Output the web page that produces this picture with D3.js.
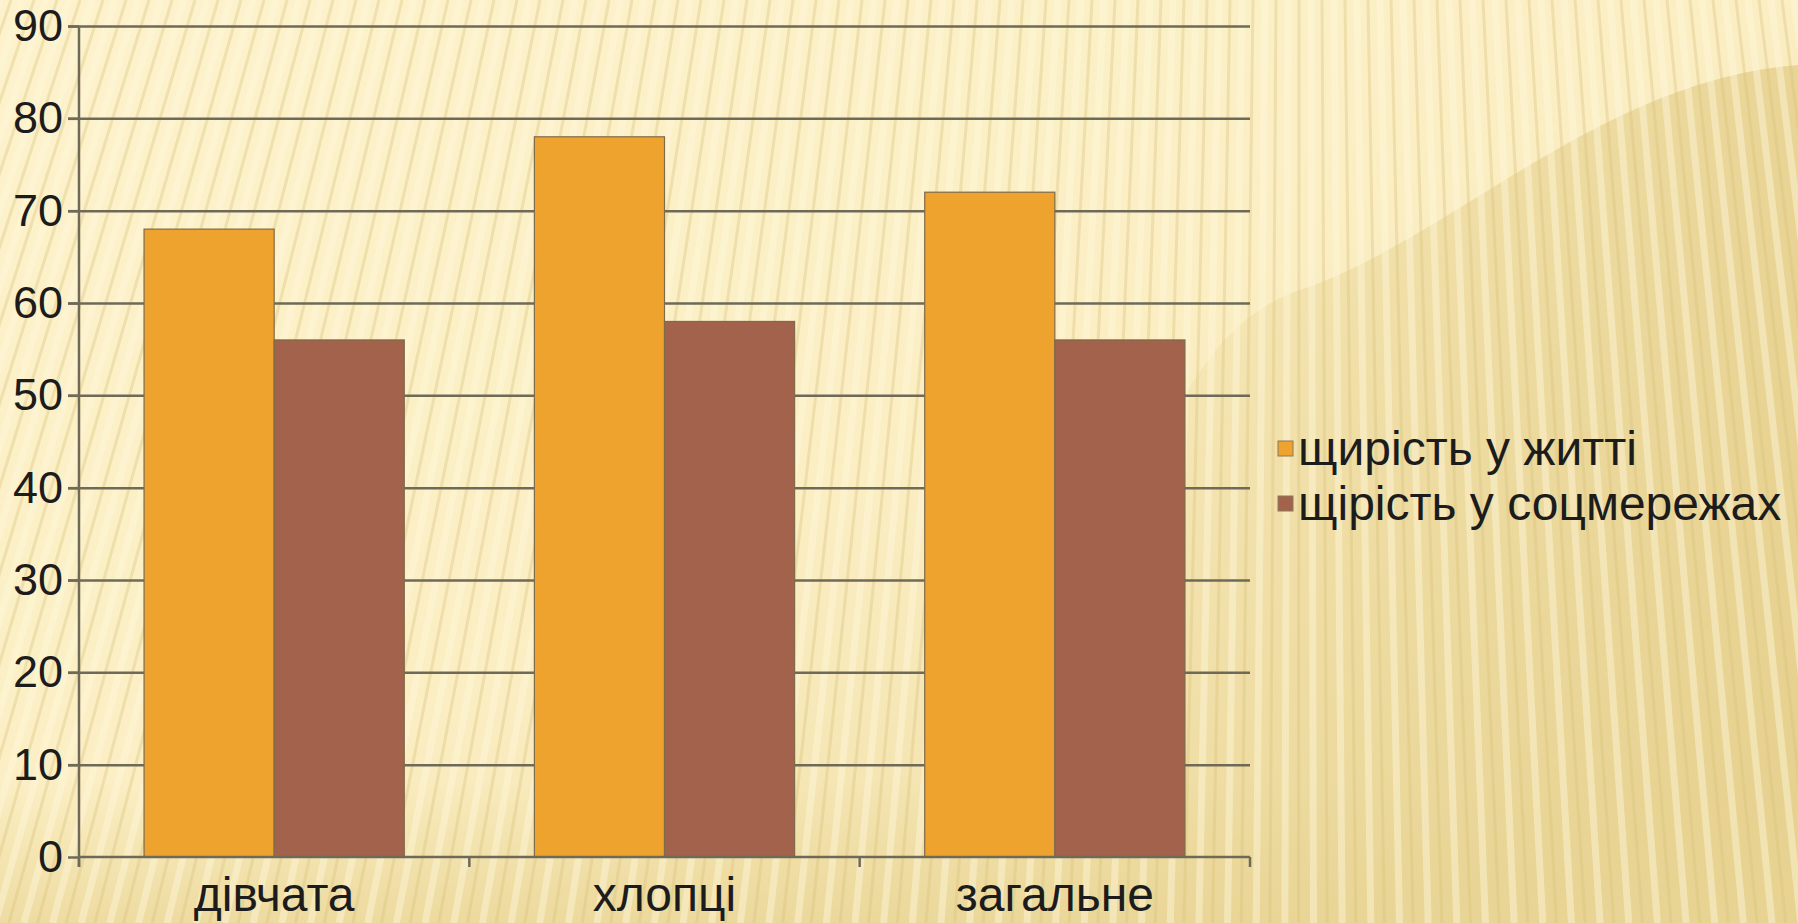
<!DOCTYPE html>
<html>
<head>
<meta charset="utf-8">
<script src="https://cdn.jsdelivr.net/npm/d3@7"></script>
<style>
  body { margin: 0; overflow: hidden; }
  text { font-family: "Liberation Sans", Arial, sans-serif; fill: #1c1c1c; }
</style>
</head>
<body>
<div id="chart"></div>
<script>
let w = 1798;
let h = 923;

// data
let categories = ['дівчата', 'хлопці', 'загальне'];
let series = ['щирість у житті', 'щірість у соцмережах'];
let lifeValues = [68, 78, 72];
let socialValues = [56, 58, 56];
let yTicks = [0, 10, 20, 30, 40, 50, 60, 70, 80, 90];
let colors = ['#eea32e', '#a3624b'];

let pLeft = 79, pRight = 1250, pTop = 26, pBottom = 857;

let svg = d3.select('#chart').
append('svg').
attr('width', w).
attr('height', h);

let defs = svg.append('defs');

let bg = defs.append('linearGradient').
attr('id', 'bg').
attr('x1', 0).attr('y1', 0).attr('x2', 1).attr('y2', 1);
bg.append('stop').attr('offset', '0%').attr('stop-color', '#fdf2cc');
bg.append('stop').attr('offset', '50%').attr('stop-color', '#fbeec3');
bg.append('stop').attr('offset', '100%').attr('stop-color', '#e8d392');

let shade = defs.append('linearGradient').
attr('id', 'shade').
attr('x1', 0).attr('y1', 0).attr('x2', 1).attr('y2', 0);
shade.append('stop').attr('offset', '0%').attr('stop-color', '#e8d494').attr('stop-opacity', 0);
shade.append('stop').attr('offset', '40%').attr('stop-color', '#e8d494').attr('stop-opacity', 0.5);
shade.append('stop').attr('offset', '100%').attr('stop-color', '#e6d08e').attr('stop-opacity', 0.85);

let bottomShade = defs.append('linearGradient').
attr('id', 'bshade').
attr('x1', 0).attr('y1', 0).attr('x2', 0).attr('y2', 1);
bottomShade.append('stop').attr('offset', '0%').attr('stop-color', '#e8d494').attr('stop-opacity', 0);
bottomShade.append('stop').attr('offset', '100%').attr('stop-color', '#e8d494').attr('stop-opacity', 0.7);

svg.append('rect').
attr('width', w).
attr('height', h).
attr('fill', 'url(#bg)');

// darker region in the right part of the slide
svg.append('path').
attr('d', 'M1050,923 C1100,600 1150,340 1300,290 C1450,240 1600,80 1798,65 L1798,923 Z').
attr('fill', 'url(#shade)');

svg.append('rect').
attr('y', 780).
attr('width', w).
attr('height', h - 780).
attr('fill', 'url(#bshade)');

// fanned stripes of the background
let stripes = d3.range(-40, 110);
let gStr = svg.append('g');
gStr.selectAll('line.light').
data(stripes).
enter().
append('line').
attr('class', 'light').
attr('x1', d => d * 23).
attr('y1', 0).
attr('x2', d => d * 23 * 1.246 - 320).
attr('y2', h).
attr('stroke', '#fff8dc').
attr('stroke-width', 7).
attr('opacity', 0.45);
gStr.selectAll('line.dark').
data(stripes).
enter().
append('line').
attr('class', 'dark').
attr('x1', d => d * 23 + 11).
attr('y1', 0).
attr('x2', d => (d * 23 + 11) * 1.246 - 320).
attr('y2', h).
attr('stroke', '#d9c27a').
attr('stroke-width', 3).
attr('opacity', 0.35);

// scales
let x0 = d3.scaleBand().
domain(categories).
range([pLeft, pRight]);

let x1 = d3.scaleBand().
domain(series).
range([0, x0.bandwidth()]).
paddingOuter(0.5);

let y = d3.scaleLinear().
domain([0, 90]).
range([pBottom, pTop]);

// gridlines
svg.append('g').
attr('transform', 'translate(68,0)').
call(d3.axisRight(y).tickValues(yTicks.slice(1)).tickSize(pRight - 68).tickFormat('')).
call(g => g.select('.domain').remove()).
selectAll('line').
attr('stroke', '#6f6a58').
attr('stroke-width', 2.5);

// y axis
let yAxis = svg.append('g').
attr('transform', 'translate(' + pLeft + ',0)').
call(d3.axisLeft(y).tickValues(yTicks).tickSize(11).tickPadding(5));
yAxis.select('.domain').remove();
yAxis.selectAll('line').attr('stroke', '#6f6a58').attr('stroke-width', 2.5);
yAxis.selectAll('text').
style('font-size', '45px').
attr('fill', '#1c1c1c');
yAxis.append('line').
attr('y1', pTop).
attr('y2', pBottom + 10).
attr('stroke', '#6f6a58').
attr('stroke-width', 2.5);

// bars
let rows = categories.map((c, i) => ({ cat: c, vals: [lifeValues[i], socialValues[i]] }));

svg.append('g').selectAll('g').
data(rows).
enter().
append('g').
attr('transform', d => 'translate(' + x0(d.cat) + ',0)').
selectAll('rect').
data(d => d.vals.map((v, j) => ({ s: series[j], v: v, j: j }))).
enter().
append('rect').
attr('x', d => x1(d.s)).
attr('y', d => y(d.v)).
attr('width', x1.bandwidth()).
attr('height', d => y(0) - y(d.v)).
attr('fill', d => colors[d.j]).
attr('stroke', '#7f6a4a').
attr('stroke-width', 1.2);

// x axis
let xg = svg.append('g');
xg.append('line').
attr('x1', pLeft).
attr('x2', pRight).
attr('y1', pBottom).
attr('y2', pBottom).
attr('stroke', '#6f6a58').
attr('stroke-width', 2.5);

let bounds = categories.map(c => x0(c)).concat([pRight]);
xg.selectAll('line.tick').
data(bounds).
enter().
append('line').
attr('class', 'tick').
attr('x1', d => d).
attr('x2', d => d).
attr('y1', pBottom).
attr('y2', pBottom + 10).
attr('stroke', '#6f6a58').
attr('stroke-width', 2.5);

xg.selectAll('text').
data(categories).
enter().
append('text').
attr('x', d => x0(d) + x0.bandwidth() / 2).
attr('y', 911).
attr('text-anchor', 'middle').
style('font-size', '48px').
text(d => d);

// legend
let legend = svg.append('g').
attr('transform', 'translate(1278,465)');

let li = legend.selectAll('g').
data(series).
enter().
append('g').
attr('transform', (d, i) => 'translate(0,' + i * 55 + ')');

li.append('rect').
attr('y', -24).
attr('width', 15).
attr('height', 15).
attr('fill', (d, i) => colors[i]).
attr('stroke', '#8a7a5a').
attr('stroke-width', 1);

li.append('text').
attr('x', 20).
style('font-size', '48px').
text(d => d);
</script>
</body>
</html>
